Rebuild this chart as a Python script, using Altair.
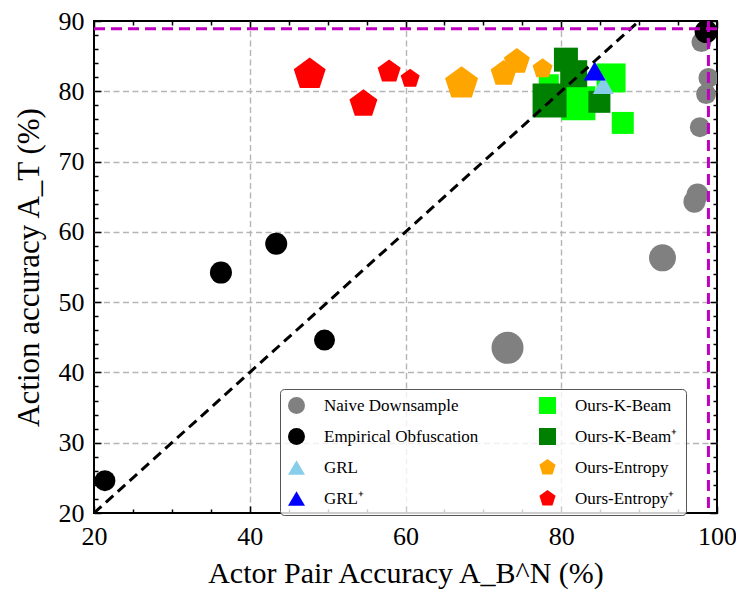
import altair as alt
import pandas as pd

# ---------------- data ----------------
naive_x = [73.1, 93.0, 97.5, 97.1, 97.8, 98.6, 98.9, 98.0]
naive_y = [43.5, 56.3, 65.3, 64.3, 74.9, 79.6, 81.9, 87.0]
naive_s = [32, 27, 22, 22, 20, 20, 20, 20]

emp_x = [21.4, 36.3, 43.4, 49.6, 98.6]
emp_y = [24.6, 54.2, 58.3, 44.6, 88.5]
emp_s = [21, 22, 22, 21, 23]

kbeam_x = [86.4, 82.2, 87.9, 78.4]
kbeam_y = [81.9, 78.3, 75.5, 81.0]
kbeam_s = [29, 34, 22, 20]

kbeamp_x = [80.6, 81.6, 78.5, 84.9]
kbeamp_y = [84.5, 82.5, 78.7, 78.5]
kbeamp_s = [24, 27, 34, 22]

grl_x = [85.4]
grl_y = [80.9]
grl_s = [21]

grlp_x = [84.3]
grlp_y = [82.9]
grlp_s = [22]

ent_x = [67.2, 72.6, 74.3, 77.6]
ent_y = [81.1, 82.5, 84.2, 83.2]
ent_s = [34.7, 27.3, 27.3, 21.0]

entp_x = [47.7, 54.6, 57.9, 60.6]
entp_y = [82.4, 78.2, 82.8, 81.8]
entp_s = [33.6, 29.4, 24.2, 20.0]

diag_vals = [20, 90]          # y = x reference line
ref_x = [98.9]                # vertical magenta line
ref_y = [88.9]                # horizontal magenta line

x_major = [20, 40, 60, 80, 100]
x_minor = [25, 30, 35, 45, 50, 55, 65, 70, 75, 85, 90, 95]
x_grid = [40, 60, 80]
y_major = [20, 30, 40, 50, 60, 70, 80, 90]
y_minor = [v for v in range(22, 90, 2) if v % 10 != 0]
y_grid = [30, 40, 50, 60, 70, 80]

N_NAIVE = "Naive Downsample"
N_EMP = "Empirical Obfuscation"
N_GRL = "GRL"
N_GRLP = "GRL\u207a"
N_KB = "Ours-K-Beam"
N_KBP = "Ours-K-Beam\u207a"
N_ENT = "Ours-Entropy"
N_ENTP = "Ours-Entropy\u207a"

# drawing order
series = [
    (N_NAIVE, naive_x, naive_y, naive_s),
    (N_EMP, emp_x, emp_y, emp_s),
    (N_KB, kbeam_x, kbeam_y, kbeam_s),
    (N_KBP, kbeamp_x, kbeamp_y, kbeamp_s),
    (N_GRL, grl_x, grl_y, grl_s),
    (N_GRLP, grlp_x, grlp_y, grlp_s),
    (N_ENT, ent_x, ent_y, ent_s),
    (N_ENTP, entp_x, entp_y, entp_s),
]
rows = []
for name, xs_, ys_, ss_ in series:
    for a, b, c in zip(xs_, ys_, ss_):
        rows.append({"method": name, "x": a, "y": b, "msize": c})
df = pd.DataFrame(rows)

diag_df = pd.DataFrame({"x": diag_vals, "y": diag_vals})

PENT = "M0,-1L0.951,-0.309L0.588,0.809L-0.588,0.809L-0.951,-0.309Z"
# legend order (filled column by column, two columns)
legend_dom = [N_NAIVE, N_EMP, N_GRL, N_GRLP, N_KB, N_KBP, N_ENT, N_ENTP]
legend_col = ["#808080", "#000000", "#87ceeb", "#0000ff",
              "#00ff00", "#008000", "#ffa500", "#ff0000"]
legend_shp = ["circle", "circle", "triangle-up", "triangle-up",
              "square", "square", PENT, PENT]

FONT = "Liberation Serif"


def xsc():
    return alt.Scale(domain=[20, 100], nice=False, zero=False)


def ysc():
    return alt.Scale(domain=[20, 90], nice=False, zero=False)


# ---------------- grid layer ----------------
grid_layer = alt.Chart(diag_df).mark_point(opacity=0).encode(
    x=alt.X("x:Q", scale=xsc(), axis=alt.Axis(
        orient="bottom", values=x_grid, grid=True, gridColor="#b5b5b5",
        gridDash=[6, 3.5], gridWidth=1.4, ticks=False, labels=False,
        domain=False, title=None)),
    y=alt.Y("y:Q", scale=ysc(), axis=alt.Axis(
        orient="left", values=y_grid, grid=True, gridColor="#b5b5b5",
        gridDash=[6, 3.5], gridWidth=1.4, ticks=False, labels=False,
        domain=False, title=None)),
)

leg = alt.Legend(
    title=None, orient="none", legendX=186, legendY=368, columns=2,
    columnPadding=60, rowPadding=13, symbolSize=289, labelFont=FONT,
    labelFontSize=17, labelOffset=19, padding=8,
    fillColor="rgba(255,255,255,0.8)", strokeColor="#555555",
    cornerRadius=4, labelColor="black", symbolStrokeWidth=0,
)

points = alt.Chart(df).mark_point(filled=True, opacity=1, clip=True,
                                  strokeWidth=0).encode(
    x=alt.X("x:Q", scale=xsc(), axis=alt.Axis(
        orient="bottom", values=x_major, ticks=False, tickSize=0,
        domain=False, grid=False, labelFlush=False, labelPadding=10,
        labelFontSize=26, labelFont=FONT, labelColor="black",
        title="Actor Pair Accuracy A_B^N (%)", titleFont=FONT,
        titleFontSize=30, titleFontWeight="normal", titleColor="black",
        titlePadding=9)),
    y=alt.Y("y:Q", scale=ysc(), axis=alt.Axis(
        orient="left", values=y_major, ticks=False, tickSize=0,
        domain=False, grid=False, labelFlush=False, labelPadding=10,
        labelFontSize=26, labelFont=FONT, labelColor="black",
        title="Action accuracy A_T (%)", titleFont=FONT,
        titleFontSize=31, titleFontWeight="normal", titleColor="black",
        titlePadding=13)),
    color=alt.Color("method:N", scale=alt.Scale(domain=legend_dom,
                                                range=legend_col),
                    legend=leg),
    shape=alt.Shape("method:N", scale=alt.Scale(domain=legend_dom,
                                                range=legend_shp),
                    legend=leg),
    size=alt.Size("msize:Q", scale=alt.Scale(type="pow", exponent=2,
                                             domain=[0, 40],
                                             range=[0, 1600]),
                  legend=None),
)

diag_line = alt.Chart(diag_df).mark_line(
    color="black", strokeWidth=3, strokeDash=[10, 6], clip=True).encode(
    x=alt.X("x:Q", scale=xsc(), axis=None),
    y=alt.Y("y:Q", scale=ysc(), axis=None),
)

hline = alt.Chart(pd.DataFrame({"y": ref_y})).mark_rule(
    color="#bf00bf", strokeWidth=3, strokeDash=[11, 6]).encode(
    y=alt.Y("y:Q", scale=ysc(), axis=None))

vline = alt.Chart(pd.DataFrame({"x": ref_x})).mark_rule(
    color="#bf00bf", strokeWidth=3, strokeDash=[11, 6]).encode(
    x=alt.X("x:Q", scale=xsc(), axis=None))


def tick_layer(xorient, yorient, xvals, yvals, size):
    def ax(orient, vals):
        return alt.Axis(orient=orient, offset=-size, values=vals,
                        tickSize=size, tickWidth=1.5, tickColor="black",
                        labels=False, domain=False, grid=False, title=None)
    return alt.Chart(diag_df).mark_point(opacity=0).encode(
        x=alt.X("x:Q", scale=xsc(), axis=ax(xorient, xvals)),
        y=alt.Y("y:Q", scale=ysc(), axis=ax(yorient, yvals)),
    )


t1 = tick_layer("bottom", "left", x_major, y_major, 7)
t2 = tick_layer("bottom", "left", x_minor, y_minor, 4)
t3 = tick_layer("top", "right", x_major, y_major, 7)
t4 = tick_layer("top", "right", x_minor, y_minor, 4)

chart = alt.layer(
    grid_layer, points, diag_line, hline, vline, t1, t2, t3, t4
).resolve_axis(
    x="independent", y="independent"
).properties(
    width=623, height=492,
    autosize=alt.AutoSizeParams(type="none"),
    padding={"left": 86, "top": 13, "right": 19, "bottom": 78},
    background="white",
).configure_view(stroke="black", strokeWidth=2)

chart.save("out.html", embed_options={"renderer": "svg", "actions": False})
